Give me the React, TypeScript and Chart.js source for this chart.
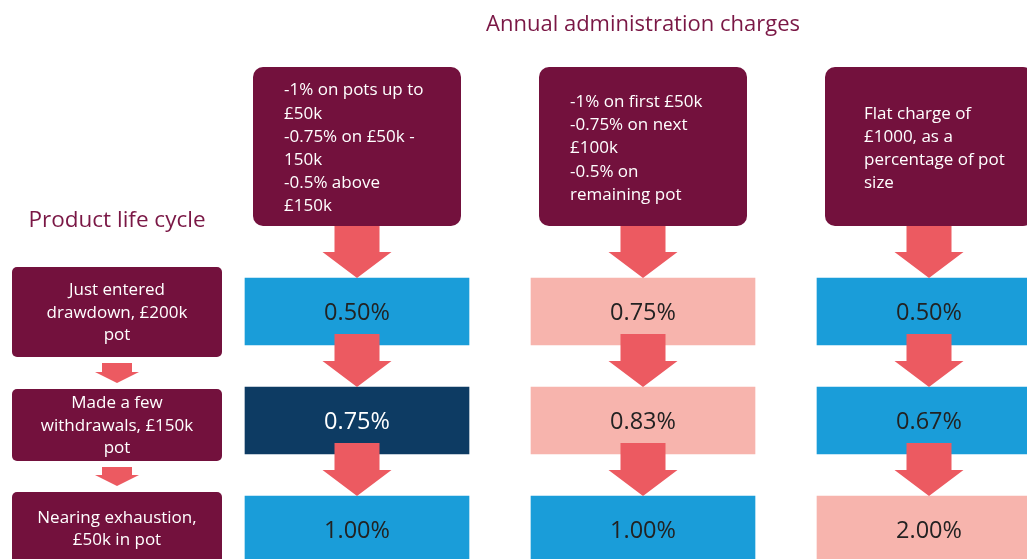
import React, { useEffect, useRef } from 'react';
import { Chart, registerables } from 'chart.js';

Chart.register(...registerables);

// ---------- DATA ----------
const chartTitle = 'Annual administration charges';
const lifecycleTitle = 'Product life cycle';

const stageLabels: string[][] = [
  ['Just entered', 'drawdown, £200k', 'pot'],
  ['Made a few', 'withdrawals, £150k', 'pot'],
  ['Nearing exhaustion,', '£50k in pot'],
];

const schemeDescriptions: string[][] = [
  ['-1% on pots up to', '£50k', '-0.75% on £50k -', '150k', '-0.5% above', '£150k'],
  ['-1% on first £50k', '-0.75% on next', '£100k', '-0.5% on', 'remaining pot'],
  ['Flat charge of', '£1000, as a', 'percentage of pot', 'size'],
];

const scheme1Charges = [0.5, 0.75, 1.0];
const scheme2Charges = [0.75, 0.83, 1.0];
const scheme3Charges = [0.5, 0.67, 2.0];

const scheme1Shades = ['blue', 'navy', 'blue'];
const scheme2Shades = ['pink', 'pink', 'blue'];
const scheme3Shades = ['blue', 'blue', 'pink'];

const schemeCharges = [scheme1Charges, scheme2Charges, scheme3Charges];
const schemeShades = [scheme1Shades, scheme2Shades, scheme3Shades];

// ---------- STYLE / LAYOUT ----------
const W = 1027;
const H = 559;
const FONT = '"Open Sans", "DejaVu Sans", sans-serif';
const MAROON = '#73113d';
const TITLE_COLOR = '#7a1745';
const CORAL = '#ec5a61';
const SHADE_COLORS: Record<string, string> = { blue: '#1a9dd9', navy: '#0d3b63', pink: '#f7b4ad' };

const COLUMN_PITCH = 286;
const FIRST_COLUMN_CENTER = 357;
const ROW_PITCH = 109;
const FIRST_ROW_CENTER = 311.5;
const CELL_WIDTH = 224;
const CELL_HEIGHT = 67;
const LIFECYCLE_X = 117 / COLUMN_PITCH - (FIRST_COLUMN_CENTER / COLUMN_PITCH - 1);
const LIFECYCLE_BOX_W = 210;
const LIFECYCLE_BOX_H = [90, 72, 72];
const LIFECYCLE_BOX_SHIFT = [0.5, 4.5, -1.5];
const HEADER_TOP = 67;
const HEADER_BOTTOM = 226;
const HEADER_W = 208;
const HEADER_TEXT_INSET = [31, 31, 39];

const xMin = 1 - FIRST_COLUMN_CENTER / COLUMN_PITCH;
const xMax = xMin + W / COLUMN_PITCH;
const yMin = -FIRST_ROW_CENTER / ROW_PITCH;
const yMax = yMin + H / ROW_PITCH;
const cellHalf = CELL_WIDTH / COLUMN_PITCH / 2;

function rrect(ctx: CanvasRenderingContext2D, x: number, y: number, w: number, h: number, r: number) {
  ctx.beginPath();
  if ((ctx as any).roundRect) (ctx as any).roundRect(x, y, w, h, r);
  else ctx.rect(x, y, w, h);
  ctx.fill();
}

function arrow(ctx: CanvasRenderingContext2D, cx: number, y0: number, tip: number, shaftW: number, headW: number, headLen: number) {
  const hs = tip - headLen;
  ctx.fillStyle = CORAL;
  ctx.beginPath();
  ctx.moveTo(cx - shaftW / 2, y0);
  ctx.lineTo(cx + shaftW / 2, y0);
  ctx.lineTo(cx + shaftW / 2, hs);
  ctx.lineTo(cx + headW / 2, hs);
  ctx.lineTo(cx, tip);
  ctx.lineTo(cx - headW / 2, hs);
  ctx.lineTo(cx - shaftW / 2, hs);
  ctx.closePath();
  ctx.fill();
}

const diagramPlugin = {
  id: 'diagram',
  beforeDatasetsDraw(chart: any) {
    const ctx: CanvasRenderingContext2D = chart.ctx;
    const xs = chart.scales.x;
    const ys = chart.scales.y;
    ctx.save();
    // titles
    ctx.fillStyle = TITLE_COLOR;
    ctx.textAlign = 'center';
    ctx.textBaseline = 'middle';
    ctx.font = `22px ${FONT}`;
    ctx.fillText(chartTitle, xs.getPixelForValue(2), 25);
    ctx.font = `22.5px ${FONT}`;
    ctx.fillText(lifecycleTitle, xs.getPixelForValue(LIFECYCLE_X), 221);

    // header boxes
    schemeDescriptions.forEach((lines, s) => {
      const cx = xs.getPixelForValue(s + 1);
      const left = cx - HEADER_W / 2;
      ctx.fillStyle = MAROON;
      rrect(ctx, left, HEADER_TOP, HEADER_W, HEADER_BOTTOM - HEADER_TOP, 10);
      ctx.fillStyle = '#ffffff';
      ctx.font = `17px ${FONT}`;
      ctx.textAlign = 'left';
      const lh = 23.2;
      const mid = (HEADER_TOP + HEADER_BOTTOM) / 2 + 2;
      const start = mid - ((lines.length - 1) * lh) / 2;
      lines.forEach((t, i) => ctx.fillText(t, left + HEADER_TEXT_INSET[s], start + i * lh));
    });

    // lifecycle boxes
    const lcx = xs.getPixelForValue(LIFECYCLE_X);
    const boxes: { top: number; bottom: number }[] = [];
    stageLabels.forEach((lines, i) => {
      const cy = ys.getPixelForValue(i) + LIFECYCLE_BOX_SHIFT[i];
      const h = LIFECYCLE_BOX_H[i];
      const top = cy - h / 2;
      boxes.push({ top, bottom: top + h });
      ctx.fillStyle = MAROON;
      rrect(ctx, lcx - LIFECYCLE_BOX_W / 2, top, LIFECYCLE_BOX_W, h, 5);
      ctx.fillStyle = '#ffffff';
      ctx.font = `17px ${FONT}`;
      ctx.textAlign = 'center';
      const lh = 22.5;
      const start = cy + 1 - ((lines.length - 1) * lh) / 2;
      lines.forEach((t, k) => ctx.fillText(t, lcx, start + k * lh));
    });
    for (let i = 0; i < boxes.length - 1; i++) {
      arrow(ctx, lcx, boxes[i].bottom + 6, boxes[i + 1].top - 6, 30, 44, 11);
    }
    ctx.restore();
  },
  afterDatasetsDraw(chart: any) {
    const ctx: CanvasRenderingContext2D = chart.ctx;
    ctx.save();
    chart.data.datasets.forEach((ds: any, s: number) => {
      const meta = chart.getDatasetMeta(s);
      const bars = meta.data;
      bars.forEach((bar: any, i: number) => {
        const top = bar.y - bar.height / 2;
        const cx = (bar.x + bar.base) / 2;
        const y0 = i === 0 ? HEADER_BOTTOM : bars[i - 1].y + bars[i - 1].height / 2 - 11;
        arrow(ctx, cx, y0, top, 45, 69, 26);
      });
    });
    chart.data.datasets.forEach((ds: any, s: number) => {
      const meta = chart.getDatasetMeta(s);
      meta.data.forEach((bar: any, i: number) => {
        const cx = (bar.x + bar.base) / 2;
        ctx.fillStyle = schemeShades[s][i] === 'navy' ? '#ffffff' : '#222222';
        ctx.font = `23.5px ${FONT}`;
        ctx.textAlign = 'center';
        ctx.textBaseline = 'middle';
        ctx.fillText(`${schemeCharges[s][i].toFixed(2)}%`, cx, bar.y + 2);
      });
    });
    ctx.restore();
  },
};

export default function App() {
  const ref = useRef<HTMLCanvasElement | null>(null);
  useEffect(() => {
    if (!ref.current) return;
    const datasets = schemeCharges.map((charges, s) => ({
      label: `Scheme ${s + 1}`,
      data: charges.map((_, i) => ({ x: [s + 1 - cellHalf, s + 1 + cellHalf], y: i })),
      backgroundColor: schemeShades[s].map((k) => SHADE_COLORS[k]),
      borderWidth: 0,
      borderSkipped: false,
      barThickness: CELL_HEIGHT,
      grouped: false,
    }));
    const chart = new Chart(ref.current, {
      type: 'bar',
      data: { datasets } as any,
      options: {
        animation: false,
        responsive: true,
        maintainAspectRatio: false,
        indexAxis: 'y',
        layout: { padding: 0 },
        plugins: { legend: { display: false }, tooltip: { enabled: false } },
        scales: {
          x: { type: 'linear', min: xMin, max: xMax, display: false, offset: false, grace: 0 },
          y: { type: 'linear', min: yMin, max: yMax, reverse: true, display: false, offset: false, grace: 0 },
        },
      } as any,
      plugins: [diagramPlugin],
    });
    return () => chart.destroy();
  }, []);
  return (
    <div style={{ position: 'absolute', left: 0, top: 0, width: W, height: H, background: '#fff' }}>
      <canvas ref={ref} />
    </div>
  );
}
